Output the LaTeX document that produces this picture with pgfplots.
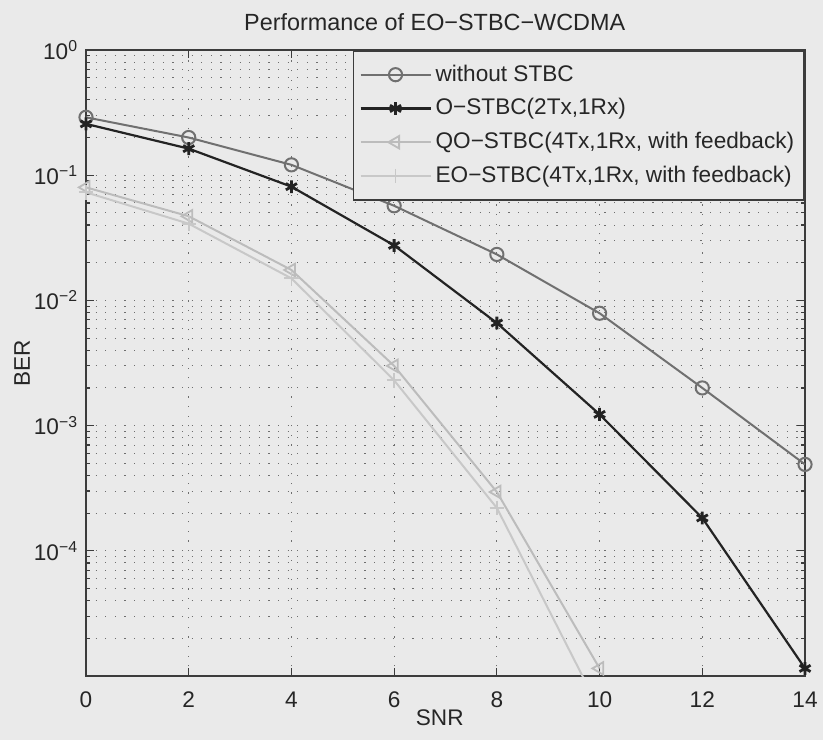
\documentclass[border=0pt]{standalone}
\usepackage{fontspec}
\setmainfont{Liberation Sans}
\usepackage{pgfplots}
\pgfplotsset{compat=1.18}
\usetikzlibrary{backgrounds}
\definecolor{bg}{RGB}{234,234,234}
\definecolor{cA}{RGB}{112,112,112}
\definecolor{cB}{RGB}{35,35,35}
\definecolor{cC}{RGB}{188,188,188}
\definecolor{cD}{RGB}{200,200,200}
\definecolor{gridc}{RGB}{110,110,110}
\definecolor{axc}{RGB}{60,60,60}
\newcommand{\fs}{\fontsize{11.3}{13.5}\selectfont}

\begin{document}
\fs
\begin{tikzpicture}
\begin{axis}[
  scale only axis, width=359.5pt, height=313pt,
  xmin=0, xmax=14, ymode=log, ymin=1e-5, ymax=1,
  xtick={0,2,...,14},
  ytick={1,1e-1,1e-2,1e-3,1e-4},
  yticklabels={10\textsuperscript{0},10\textsuperscript{−1},10\textsuperscript{−2},10\textsuperscript{−3},10\textsuperscript{−4}},
  minor ytick={2e-5,3e-5,4e-5,5e-5,6e-5,7e-5,8e-5,9e-5,
               2e-4,3e-4,4e-4,5e-4,6e-4,7e-4,8e-4,9e-4,
               2e-3,3e-3,4e-3,5e-3,6e-3,7e-3,8e-3,9e-3,
               2e-2,3e-2,4e-2,5e-2,6e-2,7e-2,8e-2,9e-2,
               2e-1,3e-1,4e-1,5e-1,6e-1,7e-1,8e-1,9e-1},
  /pgf/number format/assume math mode=true,
  tick label style={font=\fs, text=black!85},
  xticklabel style={yshift=-4pt},
  xmajorgrids=true, ymajorgrids=true, yminorgrids=true,
  major grid style={gridc, line width=0.5pt, dash pattern=on 0.6pt off 4.2pt},
  minor grid style={gridc, line width=0.5pt, dash pattern=on 0.6pt off 4.2pt},
  tick align=inside, tick pos=both,
  major tick length=4pt, minor tick length=2.2pt,
  every tick/.style={axc, line width=0.6pt},
  axis line style={axc, line width=0.8pt},
  every axis title shift=0pt,
  title={Performance of EO−STBC−WCDMA},
  title style={at={(axis description cs:0.485,1.045)}, anchor=center, yshift=0pt, font=\fontsize{11.7}{14}\selectfont, text=black!85},
  xlabel={SNR},
  xlabel style={at={(axis description cs:0.492,-0.067)}, anchor=center, font=\fs, text=black!85},
  ylabel={BER},
  ylabel style={at={(axis description cs:-0.089,0.5)}, anchor=center, font=\fs, text=black!85},
  legend style={at={(1,1)}, anchor=north east, draw=axc, line width=0.8pt, fill=bg,
     font=\fs, text=black!85, row sep=3pt, inner xsep=3pt, inner ysep=5pt},
  legend cell align=left,
  legend image code/.code={\draw[mark repeat=2, mark phase=2] plot coordinates {(0pt,0pt) (17.5pt,0pt) (35pt,0pt)};},
]
\addplot[cA, line width=1pt, mark=o, mark size=3.3pt, mark options={line width=1pt}]
  coordinates {(0,0.29)(2,0.20)(4,0.121)(6,0.057)(8,0.0233)(10,0.0079)(12,0.0020)(14,4.9e-4)};
\addlegendentry{without STBC}
\addplot[cB, line width=1.1pt, mark=asterisk, mark size=3.2pt, mark options={line width=1.4pt}]
  coordinates {(0,0.257)(2,0.163)(4,0.081)(6,0.0275)(8,0.0066)(10,0.00123)(12,1.83e-4)(14,1.15e-5)};
\addlegendentry{O−STBC(2Tx,1Rx)}
\addplot[cC, line width=1pt, mark=triangle, mark size=3.6pt, mark options={rotate=90, line width=0.9pt}]
  coordinates {(0,0.08)(2,0.047)(4,0.0175)(6,0.0030)(8,2.95e-4)(10,1.15e-5)};
\addlegendentry{QO−STBC(4Tx,1Rx, with feedback)}
\addplot[cD, line width=1pt, mark=+, mark size=3.6pt, mark options={line width=0.9pt}]
  coordinates {(0,0.073)(2,0.041)(4,0.015)(6,0.0023)(8,2.2e-4)(10,5.4e-6)};
\addlegendentry{EO−STBC(4Tx,1Rx, with feedback)}
\end{axis}
\begin{scope}[on background layer]
\fill[bg] ([shift={(-43pt,-32pt)}]current axis.south west) rectangle ([shift={(9pt,25pt)}]current axis.north east);
\end{scope}
\pgfresetboundingbox
\useasboundingbox ([shift={(-43pt,-32pt)}]current axis.south west) rectangle ([shift={(9pt,25pt)}]current axis.north east);
\end{tikzpicture}
\end{document}
